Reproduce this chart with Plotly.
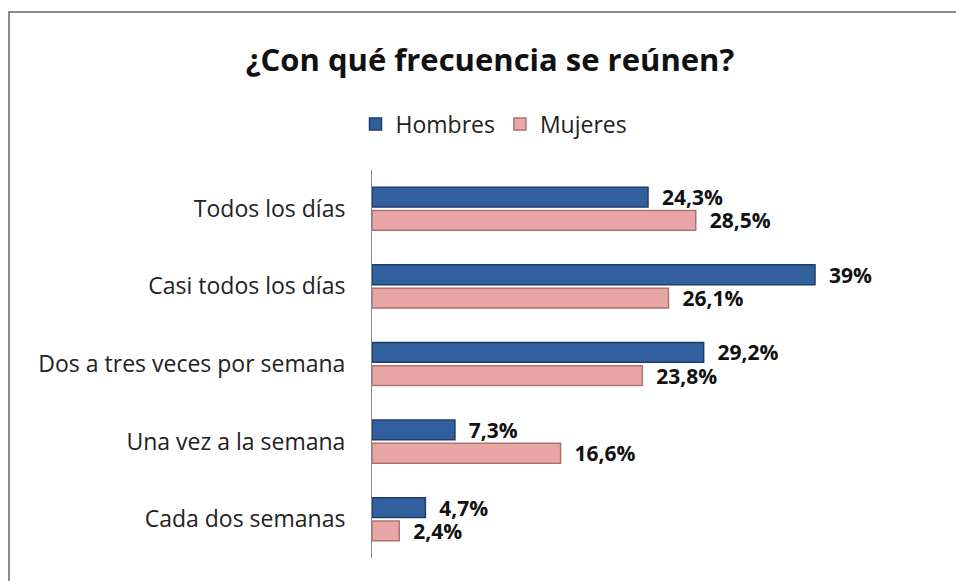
import plotly.graph_objects as go

categories = ["Todos los días", "Casi todos los días", "Dos a tres veces por semana",
              "Una vez a la semana", "Cada dos semanas"]
hombres = [24.3, 39, 29.2, 7.3, 4.7]
mujeres = [28.5, 26.1, 23.8, 16.6, 2.4]
title_text = "¿Con qué frecuencia se reúnen?"

def fmt(v):
    return ("%g" % v).replace(".", ",") + "%"

W, H = 956, 581
L, R, T, B = 372, 73, 170, 23
pw, ph = W - L - R, H - T - B
FONT = "Open Sans"

fig = go.Figure()
fig.add_trace(go.Bar(
    name="Hombres", y=categories, x=hombres, orientation="h",
    text=[fmt(v) for v in hombres], texttemplate="\u00a0\u00a0%{text}",
    textposition="outside", cliponaxis=False, constraintext="none",
    textfont=dict(family=FONT, size=21, color="#111111", weight="bold"),
    marker=dict(color="#325F9D", line=dict(color="#1E3D6A", width=1.5)),
))
fig.add_trace(go.Bar(
    name="Mujeres", y=categories, x=mujeres, orientation="h",
    text=[fmt(v) for v in mujeres], texttemplate="\u00a0\u00a0%{text}",
    textposition="outside", cliponaxis=False, constraintext="none",
    textfont=dict(family=FONT, size=21, color="#111111", weight="bold"),
    marker=dict(color="#E8A7A6", line=dict(color="#B07270", width=1.5)),
))

fig.update_layout(
    width=W, height=H,
    margin=dict(l=L, r=R, t=T, b=B),
    paper_bgcolor="white", plot_bgcolor="white",
    barmode="group", bargap=0.40, bargroupgap=0.15,
    font=dict(family=FONT, color="#222222"),
    title=dict(text="<b>" + title_text + "</b>", x=490 / W, xanchor="center",
               xref="container", yref="container", y=1 - 60 / H, yanchor="middle",
               font=dict(family=FONT, size=31, color="#111111")),
    legend=dict(orientation="h", xref="container", yref="container",
                x=494 / W, xanchor="center", y=1 - 124 / H, yanchor="middle",
                font=dict(family=FONT, size=23, color="#222222"),
                itemwidth=30, traceorder="normal"),
    xaxis=dict(range=[0, pw / (443 / 39)], visible=False, showgrid=False, zeroline=False),
    yaxis=dict(autorange="reversed", showline=True, linecolor="#8a8a8a", linewidth=1,
               ticks="", ticklabelstandoff=21, showgrid=False,
               tickfont=dict(family=FONT, size=23, color="#222222")),
    showlegend=True,
)

# outer chart frame (top and left edges visible)
fig.add_shape(type="rect", xref="paper", yref="paper",
              x0=(9 - L) / pw, x1=(W + 40 - L) / pw,
              y0=-(B + 40) / ph, y1=(H - B - 12) / ph,
              line=dict(color="#8c8c8c", width=2), fillcolor="rgba(0,0,0,0)", layer="below")

fig.write_html("out.html", config={"displayModeBar": False},
               post_script="document.body.style.margin='0';document.body.style.overflow='hidden';")
